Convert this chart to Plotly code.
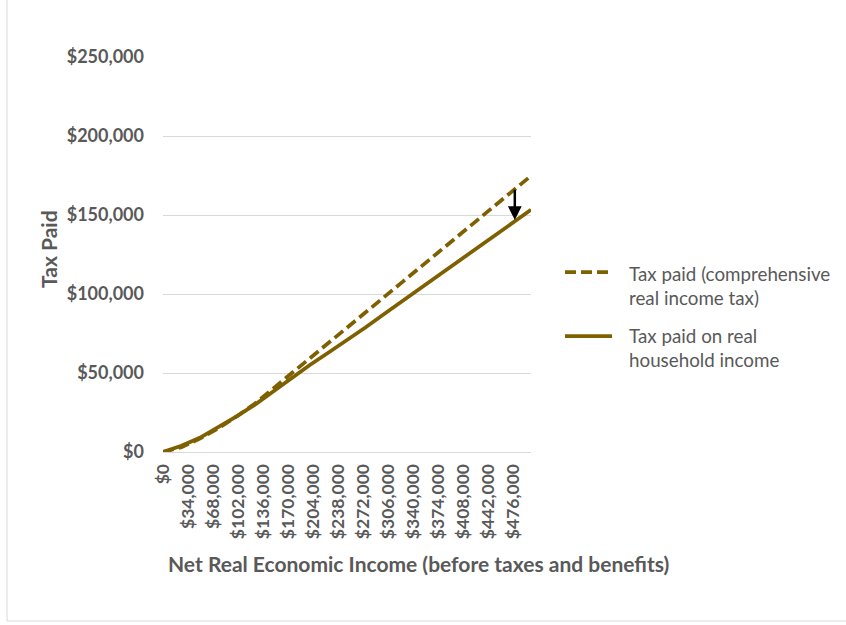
import plotly.graph_objects as go

# Net real economic income (before taxes and benefits), in dollars
income = [0, 25000, 50000, 75000, 100000, 125000, 150000, 175000, 200000, 225000,
          250000, 275000, 300000, 325000, 350000, 375000, 400000, 425000, 450000,
          475000, 500000]

# Tax paid under a comprehensive real income tax
tax_comprehensive = [0, 3000, 8500, 15000, 22500, 30700, 40300, 49800, 59400, 69000,
                     78600, 88200, 97900, 107500, 117100, 126700, 136300, 145900,
                     155600, 165200, 174800]

# Tax paid on real household income
tax_household = [0, 4000, 9000, 15500, 22500, 30000, 38500, 47000, 55200, 63000,
                 70800, 78800, 87200, 95500, 103800, 112100, 120400, 128700,
                 137000, 145300, 153300]

x_tick_values = [0, 34000, 68000, 102000, 136000, 170000, 204000, 238000, 272000,
                 306000, 340000, 374000, 408000, 442000, 476000]
x_tick_labels = ["$0", "$34,000", "$68,000", "$102,000", "$136,000", "$170,000",
                 "$204,000", "$238,000", "$272,000", "$306,000", "$340,000",
                 "$374,000", "$408,000", "$442,000", "$476,000"]
y_tick_values = [0, 50000, 100000, 150000, 200000, 250000]
y_tick_labels = ["$0", "$50,000", "$100,000", "$150,000", "$200,000", "$250,000"]

series_names = ["Tax paid (comprehensive<br>real income tax)",
                "Tax paid on real<br>household income"]

# Arrow showing the drop from the comprehensive tax to the household tax
arrow_income = 478000
arrow_from = 167000
arrow_to = 146800

LINE_COLOR = "#7F6000"
TEXT_COLOR = "#595959"
GRID_COLOR = "#D9D9D9"
FONT = "Lato"

W, H = 846, 625
L, R, T, B = 163, 315, 57, 173
plot_w = W - L - R
plot_h = H - T - B


def px_x(px):
    return (px - L) / plot_w


def px_y(py):
    return (H - B - py) / plot_h


fig = go.Figure()
fig.add_trace(go.Scatter(
    x=income, y=tax_comprehensive, mode="lines", name=series_names[0],
    line=dict(color=LINE_COLOR, width=3.75, dash="11px,5px"), showlegend=False,
))
fig.add_trace(go.Scatter(
    x=income, y=tax_household, mode="lines", name=series_names[1],
    line=dict(color=LINE_COLOR, width=3.75), showlegend=False,
))

fig.add_annotation(
    x=arrow_income, y=arrow_to, ax=arrow_income, ay=arrow_from,
    xref="x", yref="y", axref="x", ayref="y",
    text="", showarrow=True, arrowhead=2, arrowsize=1.1, arrowwidth=2.5,
    arrowcolor="#000000",
)

# Legend drawn by hand: line samples plus wrapped labels
legend_rows = [(272, "11px,5px", 285), (336, "solid", 347)]
for (ly, dash, ty), name in zip(legend_rows, series_names):
    fig.add_shape(type="line", xref="paper", yref="paper",
                  x0=px_x(565), x1=px_x(612), y0=px_y(ly), y1=px_y(ly),
                  line=dict(color=LINE_COLOR, width=3.75, dash=dash))
    fig.add_annotation(xref="paper", yref="paper", x=px_x(627), y=px_y(ty),
                       xanchor="left", yanchor="middle", align="left",
                       text=name, showarrow=False,
                       font=dict(family=FONT, size=18.8, color=TEXT_COLOR))

# Axis titles
fig.add_annotation(xref="paper", yref="paper", x=px_x(418), y=px_y(563),
                   xanchor="center", yanchor="middle", showarrow=False,
                   text="<b>Net Real Economic Income (before taxes and benefits)</b>",
                   font=dict(family=FONT, size=21, color=TEXT_COLOR))
fig.add_annotation(xref="paper", yref="paper", x=px_x(48), y=px_y(249),
                   xanchor="center", yanchor="middle", showarrow=False,
                   textangle=-90, text="<b>Tax Paid</b>",
                   font=dict(family=FONT, size=21, color=TEXT_COLOR))

# Chart frame
fig.add_shape(type="rect", xref="paper", yref="paper",
              x0=px_x(7), x1=px_x(860), y0=px_y(621), y1=px_y(-10),
              line=dict(color=GRID_COLOR, width=1), layer="below")

fig.update_layout(
    width=W, height=H,
    margin=dict(l=L, r=R, t=T, b=B, autoexpand=False),
    paper_bgcolor="white", plot_bgcolor="white",
    font=dict(family=FONT, color=TEXT_COLOR),
    xaxis=dict(
        range=[0, 500000], tickmode="array", tickvals=x_tick_values,
        ticktext=["<b>%s</b>" % t for t in x_tick_labels], tickangle=-90,
        showgrid=False, zeroline=False, showline=True, linecolor=GRID_COLOR,
        linewidth=1, ticks="", ticklabelstandoff=4,
        tickfont=dict(family=FONT, size=17.5, color=TEXT_COLOR),
    ),
    yaxis=dict(
        range=[0, 250000], tickmode="array", tickvals=y_tick_values,
        ticktext=["<b>%s</b>" % t for t in y_tick_labels],
        showgrid=True, gridcolor=GRID_COLOR, gridwidth=1, zeroline=False,
        showline=False, ticks="", ticklabelstandoff=18,
        tickfont=dict(family=FONT, size=18, color=TEXT_COLOR),
    ),
)

fig.write_html("out.html")
